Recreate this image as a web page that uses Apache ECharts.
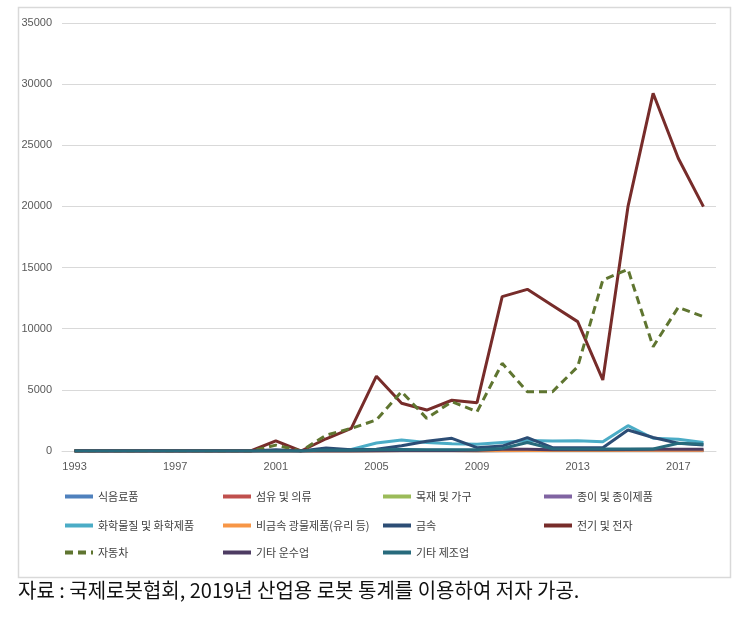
<!DOCTYPE html>
<html><head><meta charset="utf-8">
<script src="https://cdn.jsdelivr.net/npm/echarts@6/dist/echarts.min.js"></script>
<style>html,body{margin:0;padding:0;background:#fff}#c{width:747px;height:622px}</style>
</head><body><div id="c"></div>
<script>
const years = ['1993','1994','1995','1996','1997','1998','1999','2000','2001','2002','2003','2004','2005','2006','2007','2008','2009','2010','2011','2012','2013','2014','2015','2016','2017','2018'];
const yTicks = [0,5000,10000,15000,20000,25000,30000,35000];
const food      = [0,0,0,0,0,0,0,0,0,0,0,0,50,80,60,60,50,60,80,80,80,70,100,100,120,100];
const textile   = [0,0,0,0,0,0,0,0,0,0,0,0,20,30,30,30,20,30,40,40,40,40,50,50,60,50];
const wood      = [0,0,0,0,0,0,0,0,0,0,0,0,10,20,20,20,10,20,20,20,20,20,30,30,30,30];
const paper     = [0,0,0,0,0,0,0,0,0,0,0,0,10,20,20,20,10,20,20,20,20,20,30,30,30,30];
const chemical  = [0,0,0,0,0,0,0,0,0,0,100,120,650,900,700,600,550,700,850,820,840,760,2070,1040,960,700];
const nonmetal  = [0,0,0,0,0,0,0,0,0,0,0,0,30,40,40,40,30,40,50,50,50,50,60,60,60,60];
const metal     = [0,0,0,0,0,0,0,0,100,0,250,100,150,430,800,1040,270,400,1090,270,270,270,1720,1100,630,490];
const electric  = [0,0,0,0,0,0,0,0,820,0,1000,1850,6120,3900,3350,4150,3950,12620,13220,11900,10580,5810,19980,29250,23940,19980];
const auto      = [0,0,0,0,0,0,0,0,480,0,1300,1850,2540,4850,2670,4040,3210,7170,4850,4850,6890,13980,14860,8530,11750,10980];
const transport = [0,0,0,0,0,0,0,0,0,0,0,0,30,40,40,50,60,140,140,100,100,100,130,140,150,140];
const othermfg  = [0,0,0,0,0,0,0,0,0,0,80,60,100,120,100,100,100,200,700,180,160,160,160,160,630,560];

const names = ['식음료품','섬유 및 의류','목재 및 가구','종이 및 종이제품','화학물질 및 화학제품','비금속 광물제품(유리 등)','금속','전기 및 전자','자동차','기타 운수업','기타 제조업'];
const values = [food,textile,wood,paper,chemical,nonmetal,metal,electric,auto,transport,othermfg];
const colors = ['#4F81BD','#C0504D','#9BBB59','#8064A2','#4BACC6','#F79646','#2C4D75','#772C2A','#5F7530','#4D3B62','#276A7C'];

const colX = [63, 221, 381, 542];
const rowY = [491, 520, 547];

const series = names.map((n,i)=>({
  name:n, type:'line', data:values[i], symbol:'none', showSymbol:false,
  lineStyle:{color:colors[i], width:3, type: n==='자동차' ? [8,5] : 'solid'},
  itemStyle:{color:colors[i]},
  z: 2+i, animation:false
}));

const legends = names.map((n,i)=>({
  data:[n], left: colX[i%4], top: rowY[Math.floor(i/4)],
  itemWidth:28, itemHeight:12, padding:0,
  textStyle:{fontFamily:'Noto Sans CJK KR', fontSize:11, color:'#404040'},
  itemStyle:{opacity:0, borderWidth:0},
  lineStyle:{width:4, opacity:1}
}));

const chart = echarts.init(document.getElementById('c'), null, {renderer:'canvas'});
chart.setOption({
  animation:false,
  backgroundColor:'#fff',
  grid:{left:62, right:31, top:23, bottom:171, containLabel:false},
  xAxis:{type:'category', data:years, boundaryGap:true,
    axisLine:{lineStyle:{color:'#D9D9D9', width:1}}, axisTick:{show:false},
    axisLabel:{interval:3, color:'#595959', fontSize:11, margin:10, fontFamily:'Liberation Sans Narrow, Liberation Sans'}},
  yAxis:{type:'value', min:0, max:35000, interval:5000,
    axisLine:{show:false}, axisTick:{show:false},
    splitLine:{lineStyle:{color:'#D9D9D9', width:1}},
    axisLabel:{color:'#595959', fontSize:11, margin:10, fontFamily:'Liberation Sans Narrow, Liberation Sans',
      formatter:v=> yTicks.includes(v) ? String(v) : ''}},
  legend: legends,
  series: series,
  graphic:[
    {type:'rect', left:16, top:5, shape:{width:712, height:570}, style:{fill:'none', stroke:'#D9D9D9', lineWidth:1.5}, silent:true, z:-1},
    {type:'text', left:18, top:580, style:{text:'자료 : 국제로봇협회, 2019년 산업용 로봇 통계를 이용하여 저자 가공.', fontFamily:'Noto Sans CJK KR', fontSize:20, fill:'#111'}}
  ]
});
</script></body></html>
